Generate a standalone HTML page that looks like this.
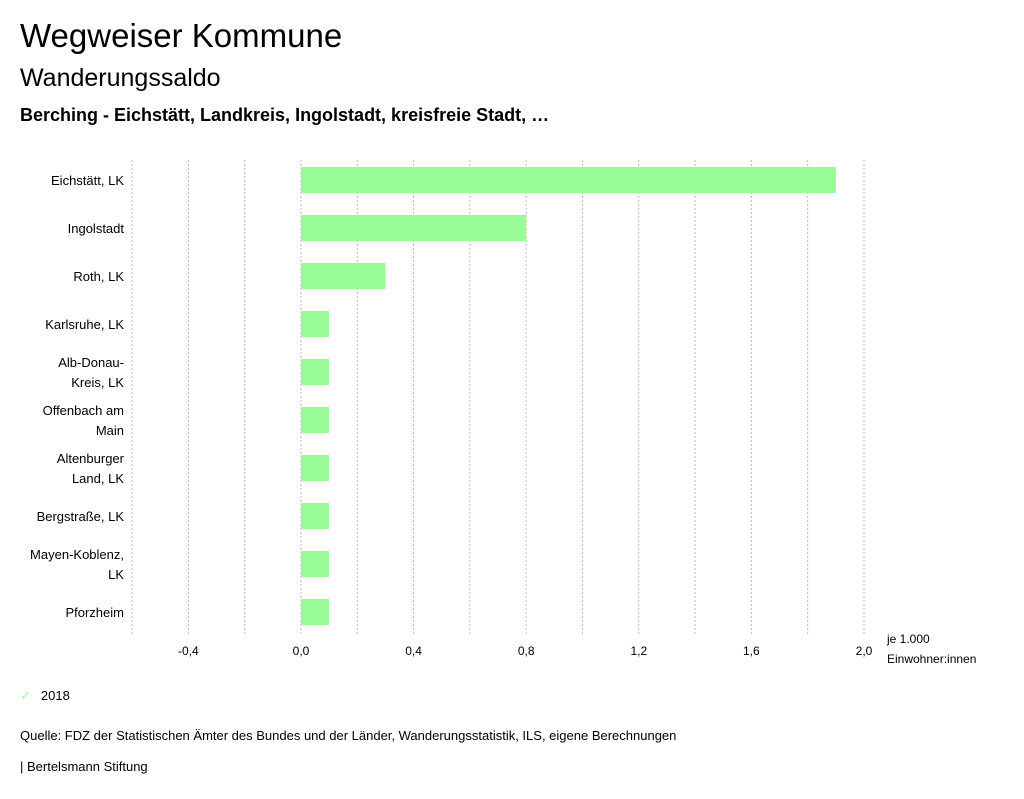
<!DOCTYPE html>
<html><head><meta charset="utf-8"><style>
body{margin:0;background:#fff;width:1024px;height:799px;overflow:hidden;font-family:"Liberation Sans",sans-serif;color:#000}
.t{position:absolute;white-space:nowrap}
</style></head><body>
<div class="t" style="left:20px;top:17px;font-size:33px">Wegweiser Kommune</div>
<div class="t" style="left:20px;top:64px;font-size:25px">Wanderungssaldo</div>
<div class="t" style="left:20px;top:105px;font-size:18px;font-weight:bold">Berching - Eichstätt, Landkreis, Ingolstadt, kreisfreie Stadt, …</div>
<svg id="chart" width="1024" height="680" style="position:absolute;left:0;top:0"></svg>
<div class="t" style="left:20px;top:688px;font-size:13px"><span style="color:#98fb98;margin-right:10px">✓</span>2018</div>
<div class="t" style="left:20px;top:728px;font-size:13px">Quelle: FDZ der Statistischen Ämter des Bundes und der Länder, Wanderungsstatistik, ILS, eigene Berechnungen</div>
<div class="t" style="left:20px;top:759px;font-size:13px">| Bertelsmann Stiftung</div>
<script>
const categories=[["Eichstätt, LK"],["Ingolstadt"],["Roth, LK"],["Karlsruhe, LK"],["Alb-Donau-","Kreis, LK"],["Offenbach am","Main"],["Altenburger","Land, LK"],["Bergstraße, LK"],["Mayen-Koblenz,","LK"],["Pforzheim"]];
const values=[1.9,0.8,0.3,0.1,0.1,0.1,0.1,0.1,0.1,0.1];
const ticks=[-0.4,0,0.4,0.8,1.2,1.6,2.0];
const tickLabels=["-0,4","0,0","0,4","0,8","1,2","1,6","2,0"];
const gridVals=[-0.6,-0.4,-0.2,0,0.2,0.4,0.6,0.8,1.0,1.2,1.4,1.6,1.8,2.0];
const NS="http://www.w3.org/2000/svg",svg=document.getElementById('chart');
const x=v=>301+v*281.5;
const plotTop=156,band=48,y=i=>plotTop+i*band;
function mk(t,a,txt){const e=document.createElementNS(NS,t);for(const k in a)e.setAttribute(k,a[k]);if(txt!=null)e.textContent=txt;svg.appendChild(e);return e;}
gridVals.forEach(v=>{const l=mk('line',{x1:x(v),x2:x(v),y1:160,y2:636,stroke:'#bbb','stroke-dasharray':'2,2','stroke-width':1});

});
values.forEach((v,i)=>{const r=mk('rect',{x:Math.min(x(0),x(v)),y:y(i)+11,width:Math.abs(x(v)-x(0)),height:26,fill:'#98fb98'});


const lines=categories[i];
lines.forEach((s,j)=>{const t=mk('text',{x:124,y:y(i)+24+5+(j-(lines.length-1)/2)*20,'text-anchor':'end','font-size':13,'font-family':'Liberation Sans, sans-serif'},s);

});});
ticks.forEach((v,i)=>{const t=mk('text',{x:x(v),y:655,'text-anchor':'middle','font-size':12,'font-family':'Liberation Sans, sans-serif'},tickLabels[i]);

});
const u1=mk('text',{x:887,y:643,'font-size':12,'font-family':'Liberation Sans, sans-serif'},'je 1.000');


const u2=mk('text',{x:887,y:663,'font-size':12,'font-family':'Liberation Sans, sans-serif'},'Einwohner:innen');


</script>
</body></html>
